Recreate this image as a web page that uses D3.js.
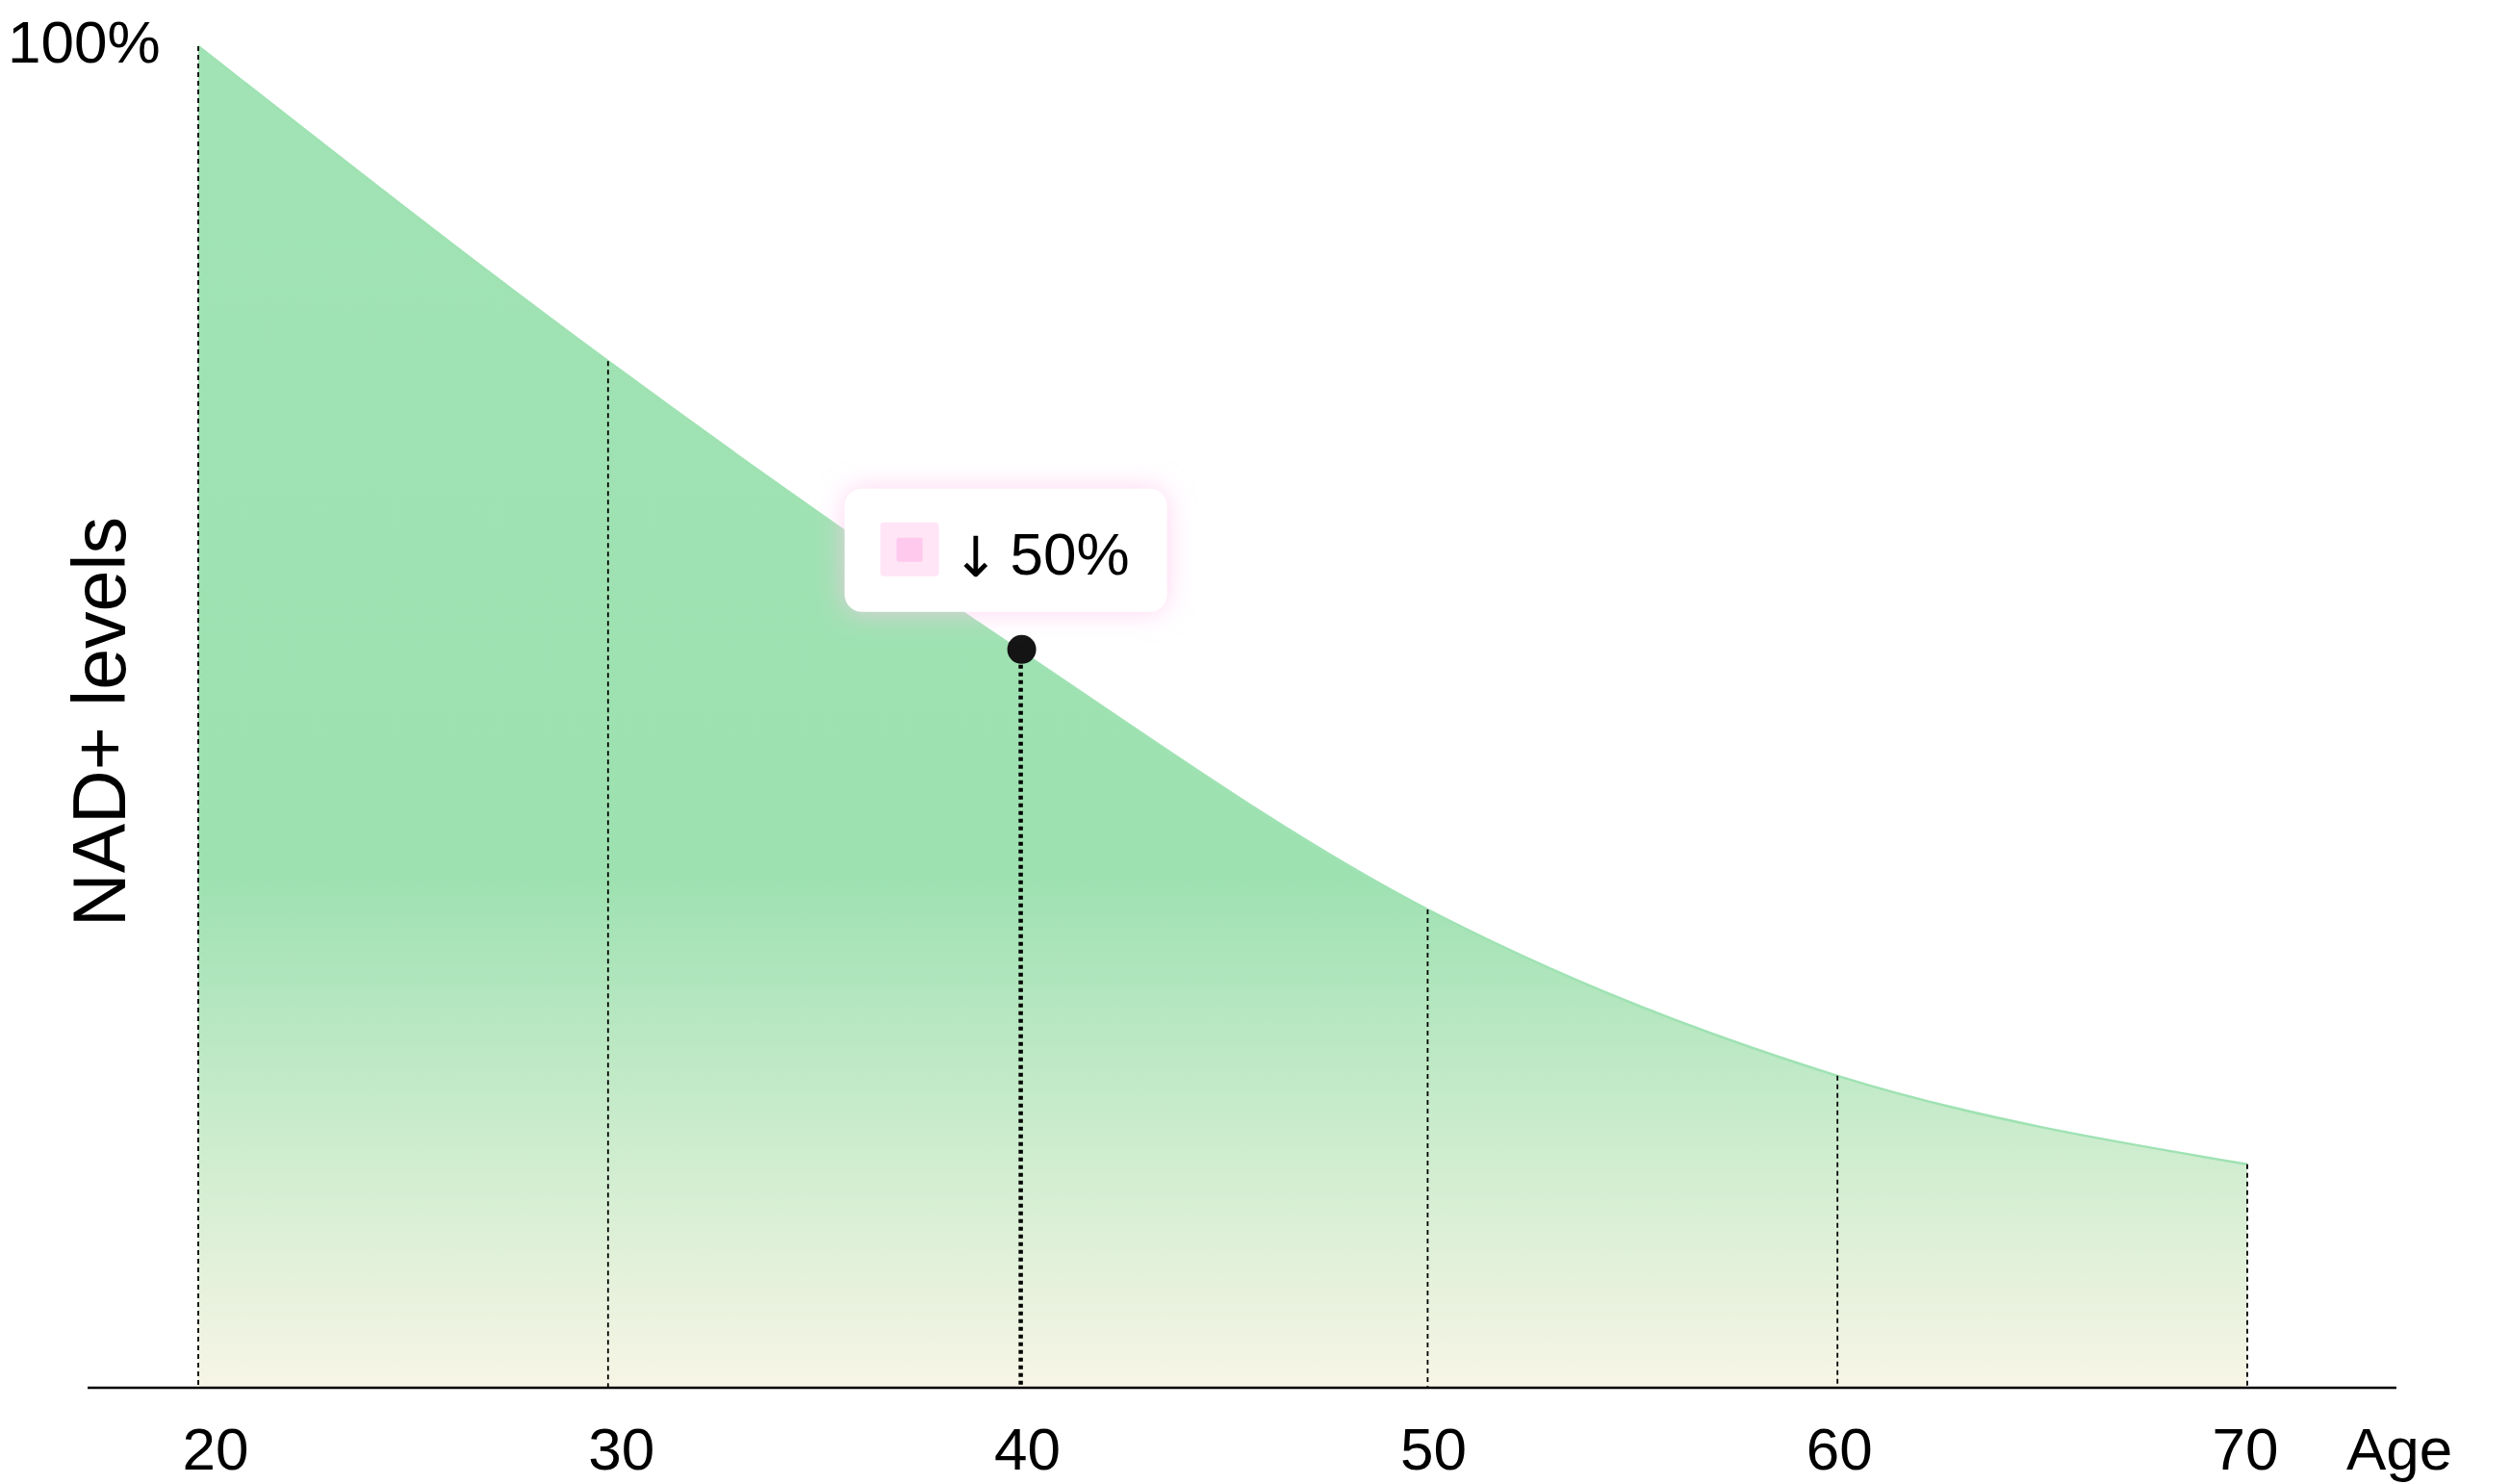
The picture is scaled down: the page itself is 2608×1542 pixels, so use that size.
<!DOCTYPE html>
<html>
<head>
<meta charset="utf-8">
<script src="https://cdn.jsdelivr.net/npm/d3@7"></script>
<style>
  html, body { margin: 0; padding: 0; background: #fff; }
  svg text { font-family: "Liberation Sans", Arial, sans-serif; fill: #000; }
</style>
</head>
<body>
<div id="chart"></div>
<script>
// NAD+ decline with age (percent of level at 20)
var ages = [20, 30, 40, 50, 60, 70];
var levels = [100, 76.5, 55, 35.6, 23.2, 16.6];
var tickLabels = ["20", "30", "40", "50", "60", "70"];
var highlightAge = 40;
var highlightText = "50%";

var W = 2608, H = 1542;
var baseY = 1441, topY = 48;

var svg = d3.select("#chart").append("svg")
    .attr("width", W).attr("height", H);

var x = d3.scaleLinear().domain([20, 70]).range([206, 2335]);
var y = d3.scaleLinear().domain([0, 100]).range([baseY, topY]);
// labels sit on a slightly different spacing than the lines
var xLab = d3.scalePoint().domain(tickLabels).range([224, 2333]);

var data = ages.map(function(a, i) { return {age: a, v: levels[i]}; });

var defs = svg.append("defs");
var grad = defs.append("linearGradient")
    .attr("id", "fillGrad")
    .attr("gradientUnits", "userSpaceOnUse")
    .attr("x1", 0).attr("x2", 0).attr("y1", topY).attr("y2", baseY);
grad.append("stop").attr("offset", "0%").attr("stop-color", "#a1e3b4");
grad.append("stop").attr("offset", "62%").attr("stop-color", "#9ee1b1");
grad.append("stop").attr("offset", "81%").attr("stop-color", "#cbeccd");
grad.append("stop").attr("offset", "100%").attr("stop-color", "#f7f5e6");

var glow = defs.append("filter").attr("id", "glow")
    .attr("x", "-30%").attr("y", "-60%").attr("width", "160%").attr("height", "220%");
glow.append("feDropShadow")
    .attr("dx", 0).attr("dy", 0).attr("stdDeviation", 14)
    .attr("flood-color", "#ffc4ec").attr("flood-opacity", 0.75);

var area = d3.area()
    .x(function(d) { return x(d.age); })
    .y0(baseY)
    .y1(function(d) { return y(d.v); })
    .curve(d3.curveMonotoneX);

var line = d3.line()
    .x(function(d) { return x(d.age); })
    .y(function(d) { return y(d.v); })
    .curve(d3.curveMonotoneX);

svg.append("path").datum(data)
    .attr("d", area)
    .attr("fill", "url(#fillGrad)");

svg.append("path").datum(data)
    .attr("d", line)
    .attr("fill", "none")
    .attr("stroke", "#9fe2b3")
    .attr("stroke-width", 2.5);

// dotted verticals
svg.selectAll(".vline").data(data).enter().append("line")
    .attr("class", "vline")
    .attr("x1", function(d) { return x(d.age) + (d.age == highlightAge ? 3 : 0); })
    .attr("x2", function(d) { return x(d.age) + (d.age == highlightAge ? 3 : 0); })
    .attr("y1", function(d) { return y(d.v); })
    .attr("y2", baseY)
    .attr("stroke", "#000")
    .attr("stroke-width", function(d) { return d.age == highlightAge ? 4.5 : 1.8; })
    .attr("stroke-dasharray", function(d) { return d.age == highlightAge ? "4,4" : "5,4"; });

// baseline
svg.append("line")
    .attr("x1", 91).attr("x2", 2490)
    .attr("y1", baseY + 1).attr("y2", baseY + 1)
    .attr("stroke", "#000").attr("stroke-width", 2.5);

// x labels
svg.selectAll(".xlab").data(tickLabels).enter().append("text")
    .attr("class", "xlab")
    .attr("x", function(d) { return xLab(d); })
    .attr("y", 1527)
    .attr("text-anchor", "middle")
    .attr("font-size", 62)
    .text(function(d) { return d; });

svg.append("text")
    .attr("x", 2438).attr("y", 1527)
    .attr("font-size", 62)
    .text("Age");

svg.append("text")
    .attr("x", 8).attr("y", 65)
    .attr("font-size", 62)
    .text("100%");

svg.append("text")
    .attr("transform", "translate(130,750) rotate(-90)")
    .attr("text-anchor", "middle")
    .attr("font-size", 77)
    .text("NAD+ levels");

// highlight point + tooltip
var hp = data.filter(function(d) { return d.age == highlightAge; })[0];
var px = x(hp.age), py = y(hp.v);

svg.append("circle")
    .attr("cx", px + 4).attr("cy", py)
    .attr("r", 15)
    .attr("fill", "#141414");

var tip = svg.append("g")
    .attr("transform", "translate(" + (px - 180) + "," + (py - 167) + ")");
tip.append("rect")
    .attr("width", 335).attr("height", 128).attr("rx", 18)
    .attr("fill", "#fff")
    .attr("filter", "url(#glow)");
tip.append("rect")
    .attr("x", 37).attr("y", 35).attr("width", 61).attr("height", 56).attr("rx", 4)
    .attr("fill", "#ffe5f6");
tip.append("rect")
    .attr("x", 54).attr("y", 51).attr("width", 27).attr("height", 25).attr("rx", 2)
    .attr("fill", "#ffc9ee");
tip.append("text")
    .attr("x", 112).attr("y", 91)
    .attr("font-size", 58)
    .style("font-family", "'DejaVu Sans', sans-serif")
    .text("↓");
tip.append("text")
    .attr("x", 172).attr("y", 89)
    .attr("font-size", 62)
    .text(highlightText);
</script>
</body>
</html>
